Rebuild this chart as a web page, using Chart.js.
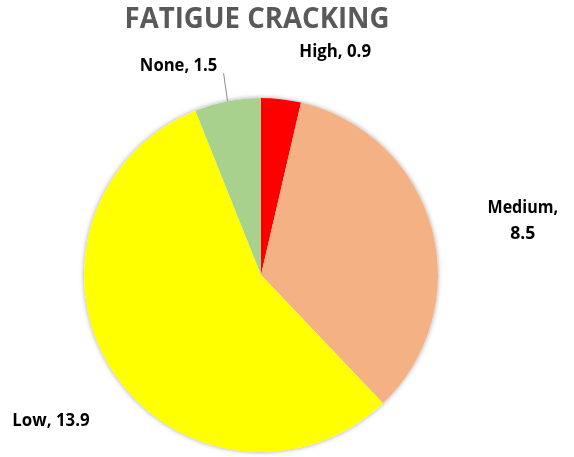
<!DOCTYPE html>
<html>
<head>
<meta charset="utf-8">
<script src="https://cdn.jsdelivr.net/npm/chart.js@4"></script>
<style>
html,body{margin:0;padding:0;background:#fff;}
#wrap{width:574px;height:457px;position:relative;}
</style>
</head>
<body>
<div id="wrap"><canvas id="c" width="574" height="457"></canvas></div>
<script>
const titleText = 'FATIGUE CRACKING';
const categories = ['High', 'Medium', 'Low', 'None'];
const values = [0.9, 8.5, 13.9, 1.5];
const colors = ['#FF0000', '#F4B183', '#FFFF00', '#A9D18E'];
// label offsets (px) from each slice's outer mid-point
const labelOffsets = [[54, -47], [91, -8], [-61, 50], [-49, -35]];
const labelLines = [['High, 0.9'], ['Medium,', '8.5'], ['Low, 13.9'], ['None, 1.5']];

// draw heavy text compressed to the width of the narrower Lato metric
function drawText(ctx, text, x, y, size) {
  ctx.font = 'bold ' + size + 'px Lato';
  const target = ctx.measureText(text).width;
  ctx.font = 'bold ' + size + 'px "Open Sans"';
  const w = ctx.measureText(text).width;
  ctx.save();
  ctx.translate(x, y);
  ctx.scale(target / w, 1);
  ctx.fillText(text, 0, 0);
  ctx.restore();
}

const labelPlugin = {
  id: 'labelPlugin',
  beforeDatasetsDraw(chart) {
    const ctx = chart.ctx;
    const arc = chart.getDatasetMeta(0).data[0];
    ctx.save();
    ctx.shadowColor = 'rgba(0,0,0,0.35)';
    ctx.shadowBlur = 5;
    ctx.fillStyle = '#fff';
    ctx.beginPath();
    ctx.arc(arc.x, arc.y, arc.outerRadius, 0, Math.PI * 2);
    ctx.fill();
    ctx.restore();
  },
  afterDatasetsDraw(chart) {
    const ctx = chart.ctx;
    const meta = chart.getDatasetMeta(0);
    ctx.save();
    ctx.textBaseline = 'middle';
    ctx.textAlign = 'center';
    // title
    ctx.fillStyle = '#595959';
    ctx.font = 'bold 28px "Open Sans"';
    const tw = ctx.measureText(titleText).width;
    ctx.save();
    ctx.translate(257, 20);
    ctx.scale(265 / tw, 1);
    ctx.fillText(titleText, 0, 0);
    ctx.restore();

    ctx.fillStyle = '#000';
    meta.data.forEach((a, i) => {
      const mid = (a.startAngle + a.endAngle) / 2;
      const ox = a.x + Math.cos(mid) * a.outerRadius;
      const oy = a.y + Math.sin(mid) * a.outerRadius;
      const lx = ox + labelOffsets[i][0];
      const ly = oy + labelOffsets[i][1];
      const lines = labelLines[i];
      const lh = 26;
      lines.forEach((t, k) => {
        drawText(ctx, t, lx, ly + (k - (lines.length - 1) / 2) * lh, 18);
      });
      if (i === 3) {
        ctx.strokeStyle = '#8c8c8c';
        ctx.lineWidth = 1;
        ctx.beginPath();
        ctx.moveTo(ox, oy);
        ctx.lineTo(lx + 45, ly + 7);
        ctx.stroke();
      }
    });
    ctx.restore();
  }
};

new Chart(document.getElementById('c'), {
  type: 'pie',
  data: {
    labels: categories,
    datasets: [{
      data: values,
      backgroundColor: colors,
      borderWidth: 0
    }]
  },
  options: {
    responsive: false,
    animation: false,
    layout: { padding: { top: 98, bottom: 5, left: 0, right: 52 } },
    plugins: {
      legend: { display: false },
      title: { display: false },
      tooltip: { enabled: false }
    }
  },
  plugins: [labelPlugin]
});
</script>
</body>
</html>
